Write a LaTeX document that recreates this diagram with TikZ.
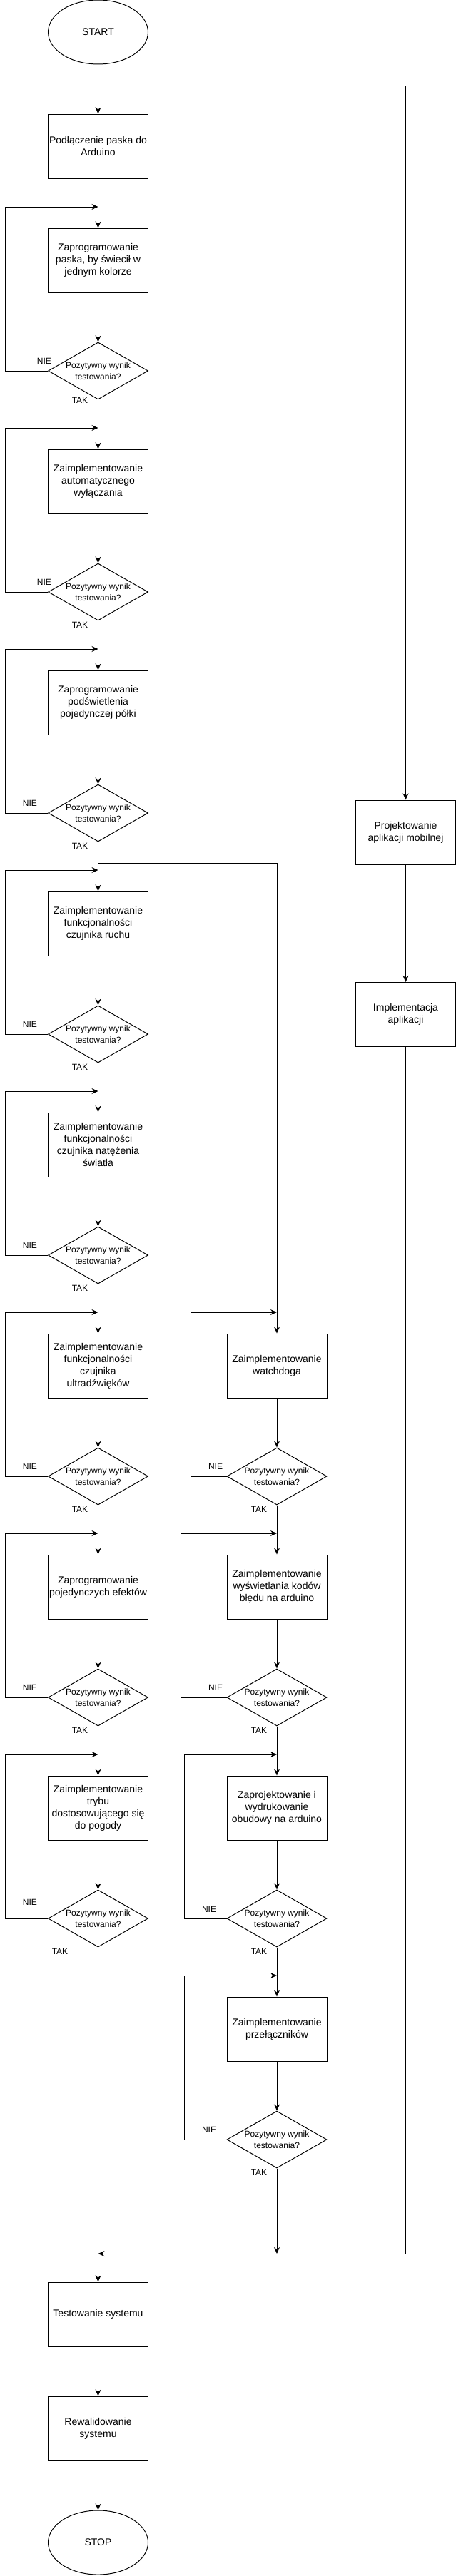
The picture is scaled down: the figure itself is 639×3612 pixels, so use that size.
\documentclass[tikz,border=0pt]{standalone}
\usepackage{fontspec}
\setmainfont{Liberation Sans}
\usetikzlibrary{shapes.geometric,arrows.meta}
\tikzset{
  conn/.style={line width=1pt, draw=black},
  arr/.style={conn, -{Stealth[length=9pt,width=8pt,inset=3pt]}},
  stepbox/.style={draw, line width=1pt, rectangle, minimum width=140pt, minimum height=90pt, inner sep=0pt, align=center, font=\fontsize{14}{17}\selectfont},
  term/.style={draw, line width=1pt, ellipse, minimum width=140pt, minimum height=90pt, inner sep=0pt, font=\fontsize{14}{17}\selectfont},
  dec/.style={draw, line width=1pt, diamond, minimum width=140pt, minimum height=80pt, inner sep=0pt},
  dtxt/.style={inner sep=0pt, align=center, font=\fontsize{12}{16.5}\selectfont},
  lbl/.style={inner sep=0pt, font=\fontsize{12}{14}\selectfont}
}
\newcommand{\pyt}{Pozytywny wynik\\testowania?}
\begin{document}
\begin{tikzpicture}[x=1pt,y=-1pt]
\useasboundingbox (0,0) rectangle (639,3612);
% ---------- left column ----------
\node[term] (start) at (137.5,45) {START};
\node[stepbox] (b1) at (137.5,205) {Podłączenie paska do\\Arduino};
\node[stepbox] (b2) at (137.5,365) {Zaprogramowanie\\paska, by świecił w\\jednym kolorze};
\node[dec] (d1) at (137.5,520) {};
\node[stepbox] (b3) at (137.5,675) {Zaimplementowanie\\automatycznego\\wyłączania};
\node[dec] (d2) at (137.5,830) {};
\node[stepbox] (b4) at (137.5,985) {Zaprogramowanie\\podświetlenia\\pojedynczej półki};
\node[dec] (d3) at (137.5,1140) {};
\node[stepbox] (b5) at (137.5,1295) {Zaimplementowanie\\funkcjonalności\\czujnika ruchu};
\node[dec] (d4) at (137.5,1450) {};
\node[stepbox] (b6) at (137.5,1605) {Zaimplementowanie\\funkcjonalności\\czujnika natężenia\\światła};
\node[dec] (d5) at (137.5,1760) {};
\node[stepbox] (b7) at (137.5,1915) {Zaimplementowanie\\funkcjonalności\\czujnika\\ultradźwięków};
\node[dec] (d6) at (137.5,2070) {};
\node[stepbox] (b8) at (137.5,2225) {Zaprogramowanie\\pojedynczych efektów};
\node[dec] (d7) at (137.5,2380) {};
\node[stepbox] (b9) at (137.5,2535) {Zaimplementowanie\\trybu\\dostosowującego się\\do pogody};
\node[dec] (d8) at (137.5,2690) {};
\node[stepbox] (test) at (137.5,3245) {Testowanie systemu};
\node[stepbox] (rew) at (137.5,3405) {Rewalidowanie\\systemu};
\node[term] (stop) at (137.5,3565) {STOP};
% ---------- middle column ----------
\node[stepbox] (m1) at (388,1915) {Zaimplementowanie\\watchdoga};
\node[dec] (md1) at (388,2070) {};
\node[stepbox] (m2) at (388,2225) {Zaimplementowanie\\wyświetlania kodów\\błędu na arduino};
\node[dec] (md2) at (388,2380) {};
\node[stepbox] (m3) at (388,2535) {Zaprojektowanie i\\wydrukowanie\\obudowy na arduino};
\node[dec] (md3) at (388,2690) {};
\node[stepbox] (m4) at (388,2845) {Zaimplementowanie\\przełączników};
\node[dec] (md4) at (388,3000) {};
% ---------- right column ----------
\node[stepbox] (r1) at (568.5,1167) {Projektowanie\\aplikacji mobilnej};
\node[stepbox] (r2) at (568.5,1422.5) {Implementacja\\aplikacji};
% ---------- diamond texts ----------
\foreach \d in {d1,d2,d3,d4,d5,d6,d7,d8,md1,md2,md3,md4}{
  \node[dtxt] (\d t) at (\d) {\pyt};
}
% ---------- junction coordinates ----------
\coordinate (jA) at (137.5,120);
\coordinate (jB) at (137.5,1210);
\coordinate (jE) at (568.5,3160);
\coordinate (jF) at (137.5,3160);
\coordinate (jG) at (388,3160);
\coordinate (j1) at (137.5,290);  \coordinate (L1) at (7,290);
\coordinate (j2) at (137.5,600);  \coordinate (L2) at (7,600);
\coordinate (j3) at (137.5,910);  \coordinate (L3) at (7,910);
\coordinate (j4) at (137.5,1220); \coordinate (L4) at (7,1220);
\coordinate (j5) at (137.5,1530); \coordinate (L5) at (7,1530);
\coordinate (j6) at (137.5,1840); \coordinate (L6) at (7,1840);
\coordinate (j7) at (137.5,2150); \coordinate (L7) at (7,2150);
\coordinate (j8) at (137.5,2460); \coordinate (L8) at (7,2460);
\coordinate (k1) at (388,1840); \coordinate (M1) at (267,1840);
\coordinate (k2) at (388,2150); \coordinate (M2) at (253,2150);
\coordinate (k3) at (388,2460); \coordinate (M3) at (258,2460);
\coordinate (k4) at (388,2770); \coordinate (M4) at (258,2770);
% ---------- main flow ----------
\draw[arr] (start) -- (b1);
\draw[arr] (jA) -| (r1.north);
\draw[arr] (b1) -- (b2);
\draw[arr] (b2) -- (d1);
\draw[arr] (d1) -- (b3);
\draw[arr] (b3) -- (d2);
\draw[arr] (d2) -- (b4);
\draw[arr] (b4) -- (d3);
\draw[arr] (d3) -- (b5);
\draw[arr] (jB) -| (m1.north);
\draw[arr] (b5) -- (d4);
\draw[arr] (d4) -- (b6);
\draw[arr] (b6) -- (d5);
\draw[arr] (d5) -- (b7);
\draw[arr] (b7) -- (d6);
\draw[arr] (d6) -- (b8);
\draw[arr] (b8) -- (d7);
\draw[arr] (d7) -- (b9);
\draw[arr] (b9) -- (d8);
\draw[arr] (d8) -- (test);
\draw[arr] (test) -- (rew);
\draw[arr] (rew) -- (stop);
% middle flow
\draw[arr] (m1) -- (md1);
\draw[arr] (md1) -- (m2);
\draw[arr] (m2) -- (md2);
\draw[arr] (md2) -- (m3);
\draw[arr] (m3) -- (md3);
\draw[arr] (md3) -- (m4);
\draw[arr] (m4) -- (md4);
\draw[arr] (md4) -- (jG);
% right flow
\draw[arr] (r1) -- (r2);
\draw[arr] (r2.south) -- (jE) -- (jF);
% ---------- NIE loops ----------
\draw[arr] (d1.west) -| (L1) -- (j1);
\draw[arr] (d2.west) -| (L2) -- (j2);
\draw[arr] (d3.west) -| (L3) -- (j3);
\draw[arr] (d4.west) -| (L4) -- (j4);
\draw[arr] (d5.west) -| (L5) -- (j5);
\draw[arr] (d6.west) -| (L6) -- (j6);
\draw[arr] (d7.west) -| (L7) -- (j7);
\draw[arr] (d8.west) -| (L8) -- (j8);
\draw[arr] (md1.west) -| (M1) -- (k1);
\draw[arr] (md2.west) -| (M2) -- (k2);
\draw[arr] (md3.west) -| (M3) -- (k3);
\draw[arr] (md4.west) -| (M4) -- (k4);
% ---------- labels ----------
\node[lbl] (n1) at (62,506) {NIE};
\node[lbl] (n2) at (62,816) {NIE};
\node[lbl] (n3) at (42,1126) {NIE};
\node[lbl] (n4) at (42,1436) {NIE};
\node[lbl] (n5) at (42,1746) {NIE};
\node[lbl] (n6) at (42,2056) {NIE};
\node[lbl] (n7) at (42,2366) {NIE};
\node[lbl] (n8) at (42,2667) {NIE};
\node[lbl] (mn1) at (302,2056) {NIE};
\node[lbl] (mn2) at (302,2366) {NIE};
\node[lbl] (mn3) at (293,2677) {NIE};
\node[lbl] (mn4) at (293,2986) {NIE};
\node[lbl] (t1) at (112,561) {TAK};
\node[lbl] (t2) at (112,876.5) {TAK};
\node[lbl] (t3) at (112,1186.5) {TAK};
\node[lbl] (t4) at (112,1496) {TAK};
\node[lbl] (t5) at (112,1806.5) {TAK};
\node[lbl] (t6) at (112,2116) {TAK};
\node[lbl] (t7) at (112,2426) {TAK};
\node[lbl] (t8) at (84,2736) {TAK};
\node[lbl] (mt1) at (363,2116) {TAK};
\node[lbl] (mt2) at (363,2426) {TAK};
\node[lbl] (mt3) at (363,2736) {TAK};
\node[lbl] (mt4) at (363,3046.5) {TAK};
\end{tikzpicture}
\end{document}
